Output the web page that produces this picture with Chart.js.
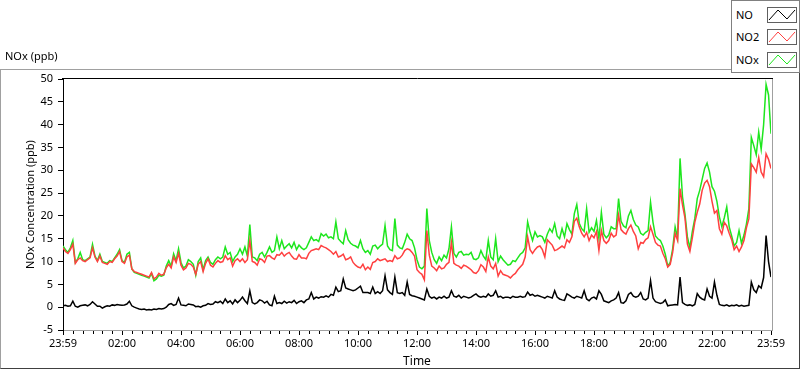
<!DOCTYPE html>
<html>
<head>
<meta charset="utf-8">
<script src="https://cdn.jsdelivr.net/npm/chart.js@4.4.0/dist/chart.umd.min.js"></script>
<style>
  html, body { margin: 0; padding: 0; background: #fff; }
  body { width: 800px; height: 369px; position: relative; overflow: hidden; font-family: "Noto Sans", sans-serif; color: #000; }
  #frame { position: absolute; left: 0; top: 69px; width: 798px; height: 298px;
    border-top: 1px solid #a0a0a0; border-left: 1px solid #a0a0a0;
    border-right: 1px solid #404040; border-bottom: 1px solid #404040; }
  #chart { position: absolute; left: 0; top: 0; }
  #caption { position: absolute; left: 5px; top: 48px; font-size: 11px; line-height: 16px; }
  #legend { position: absolute; left: 731px; top: 0; width: 67px; height: 71px;
    border: 1px solid #808080; background: #fff; }
  .row { position: absolute; left: 0; width: 67px; height: 16px; }
  .row span { position: absolute; left: 4px; top: 0; font-size: 11px; line-height: 16px; }
  .row svg { position: absolute; left: 35px; top: 0; }
</style>
</head>
<body>
<div id="frame"></div>
<canvas id="chart" width="800" height="369"></canvas>
<div id="caption">NOx (ppb)</div>
<div id="legend"></div>
<script>
// 5-minute samples from 23:59 to 23:59 next day
const NO_PPB = [
  0.3, 0.4, 0.2, 0.3, 1.3, 0.2, 0.0, 0.3, 0.4, 0.5,
  0.3, 0.6, 1.2, 0.7, 0.2, 0.2, -0.2, 0.1, 0.3, 0.2,
  0.5, 0.4, 0.6, 0.5, 0.4, 0.5, 0.7, 1.3, 0.3, 0.0,
  -0.2, -0.4, -0.5, -0.4, -0.6, -0.5, -0.6, -0.4, -0.5, -0.3,
  -0.4, -0.3, 0.0, 0.6, 0.8, 0.4, 0.6, 2.0, 0.5, 0.4,
  0.3, 0.7, 0.6, 0.5, 0.1, 0.2, 0.0, 0.3, 0.4, 0.8,
  0.6, 0.7, 1.2, 1.0, 1.3, 0.8, 1.8, 1.0, 1.4, 0.7,
  1.6, 1.0, 1.5, 2.2, 1.4, 0.8, 3.6, 1.0, 0.7, 1.0,
  1.6, 1.4, 0.9, 1.3, 0.5, 0.3, 2.4, 0.8, 1.0, 0.8,
  1.3, 0.9, 1.2, 1.0, 1.5, 0.8, 1.2, 1.4, 1.0, 1.6,
  1.8, 3.2, 1.8, 2.2, 2.0, 2.3, 2.2, 2.5, 2.2, 2.8,
  2.6, 4.4, 3.4, 3.6, 6.2, 4.2, 4.0, 3.8, 3.6, 3.8,
  4.2, 4.6, 3.2, 3.2, 3.2, 3.0, 4.4, 3.0, 3.4, 3.0,
  3.6, 6.9, 3.8, 3.2, 2.8, 6.6, 3.2, 3.0, 3.2, 2.6,
  5.5, 2.8, 2.5, 2.4, 2.2, 2.0, 1.8, 1.6, 4.0, 2.4,
  2.0, 2.2, 1.8, 2.2, 2.0, 2.4, 2.0, 2.2, 3.6, 2.4,
  2.2, 2.6, 2.0, 2.4, 2.2, 2.0, 2.2, 2.6, 2.9, 2.4,
  2.2, 2.4, 2.2, 2.9, 2.4, 2.6, 3.6, 2.2, 2.4, 2.0,
  2.2, 2.2, 2.0, 2.4, 2.2, 2.2, 2.4, 2.2, 2.3, 3.3,
  2.6, 2.8, 2.4, 2.6, 2.4, 2.2, 2.0, 2.4, 2.2, 2.0,
  3.6, 2.2, 1.8, 1.6, 1.5, 2.9, 2.6, 2.2, 2.0, 2.4,
  2.2, 2.0, 3.6, 1.8, 1.4, 2.0, 2.2, 1.8, 3.6, 2.8,
  1.4, 1.2, 1.0, 1.4, 1.6, 2.0, 3.2, 1.0, 0.9, 1.4,
  2.8, 3.2, 2.4, 2.2, 2.4, 3.2, 1.8, 1.6, 2.0, 5.8,
  2.0, 1.2, 1.0, 0.8, 1.0, 1.6, 0.3, 0.4, 0.5, 0.6,
  0.5, 6.6, 1.0, 0.6, 0.4, 0.5, 0.3, 0.6, 3.0, 2.2,
  1.8, 1.6, 4.0, 2.4, 2.0, 5.5, 2.6, 0.6, 0.4, 0.3,
  0.5, 0.2, 0.4, 0.3, 0.5, 0.2, 0.4, 0.2, 0.3, 0.4,
  5.5, 3.8, 3.2, 4.7, 4.2, 6.5, 15.7, 10.0, 6.6
];

const NO2_PPB = [
  13.0, 12.2, 11.8, 12.6, 13.8, 9.6, 10.4, 10.8, 10.2, 10.0,
  10.4, 10.8, 13.0, 11.0, 10.0, 11.2, 9.8, 9.6, 9.4, 10.0,
  9.8, 10.6, 11.2, 12.2, 10.0, 9.6, 11.0, 11.4, 8.4, 7.8,
  7.6, 7.4, 7.2, 7.0, 6.8, 6.6, 7.6, 6.2, 6.6, 7.4,
  7.0, 7.2, 8.6, 9.4, 8.6, 11.0, 9.8, 11.8, 9.2, 8.2,
  8.6, 9.6, 9.4, 8.8, 7.2, 9.4, 10.0, 7.8, 9.6, 10.6,
  9.2, 8.8, 9.6, 10.2, 9.8, 10.0, 11.3, 10.4, 10.8, 9.0,
  10.2, 10.6, 10.0, 10.6, 9.8, 10.4, 14.6, 10.0, 9.8, 9.2,
  10.6, 10.4, 9.8, 11.2, 11.3, 10.8, 10.5, 11.5, 11.4, 12.0,
  11.2, 11.7, 12.0, 11.2, 10.6, 10.5, 11.5, 10.8, 10.8, 10.6,
  11.8, 12.4, 12.6, 12.8, 12.6, 13.5, 13.2, 13.0, 12.6, 12.2,
  11.6, 12.2, 11.0, 11.2, 11.6, 10.4, 10.6, 11.0, 9.8, 9.2,
  8.8, 8.6, 9.4, 8.2, 8.8, 8.3, 9.8, 10.0, 10.6, 10.2,
  10.4, 10.6, 10.0, 10.2, 10.0, 11.3, 10.6, 10.8, 11.4, 12.4,
  12.8, 12.6, 12.0, 11.2, 8.2, 7.6, 7.2, 6.0, 16.8, 11.4,
  9.0, 8.6, 8.0, 9.0, 8.4, 8.6, 9.4, 9.8, 14.2, 9.6,
  9.2, 9.0, 8.5, 9.2, 9.0, 8.6, 8.2, 7.6, 7.4, 8.0,
  9.3, 8.8, 7.8, 11.0, 9.0, 8.4, 9.6, 6.8, 8.0, 7.2,
  7.0, 6.8, 6.4, 7.0, 7.4, 8.2, 8.8, 9.4, 11.0, 15.4,
  12.6, 11.8, 12.6, 13.2, 13.4, 12.6, 11.0, 14.8, 14.2, 13.6,
  12.4, 12.6, 13.0, 13.4, 13.0, 14.8, 14.2, 15.4, 18.8, 19.5,
  17.6, 16.2, 15.4, 16.4, 14.6, 15.8, 15.2, 16.6, 12.4, 16.8,
  14.6, 14.0, 14.6, 16.2, 15.4, 15.8, 20.2, 17.0, 16.4, 16.0,
  17.2, 18.0, 16.6, 15.6, 12.8, 14.2, 14.0, 14.8, 15.2, 17.6,
  16.0, 14.2, 13.6, 13.4, 11.8, 10.6, 8.8, 9.4, 12.0, 16.2,
  14.6, 26.0, 22.4, 19.6, 13.8, 12.2, 15.2, 18.6, 20.8, 22.6,
  25.6, 27.2, 27.8, 26.4, 23.2, 20.6, 21.2, 17.2, 16.0, 18.6,
  17.8, 16.2, 14.8, 12.6, 13.4, 12.2, 13.2, 14.6, 17.4, 19.4,
  31.4, 30.6, 29.6, 32.8, 29.6, 28.6, 33.6, 32.4, 30.4
];

const NOX_PPB = [
  13.4, 12.6, 12.0, 13.0, 14.6, 9.8, 10.6, 12.0, 10.4, 10.2,
  10.6, 11.0, 13.8, 11.2, 10.2, 11.6, 10.0, 9.8, 9.6, 10.2,
  10.0, 10.8, 11.6, 12.6, 10.2, 9.8, 11.6, 12.0, 8.4, 7.6,
  7.4, 7.2, 7.0, 6.8, 6.6, 6.4, 7.4, 5.8, 6.2, 7.0,
  6.8, 7.0, 9.0, 10.2, 9.0, 11.7, 10.2, 12.8, 9.8, 8.6,
  9.0, 10.4, 10.0, 9.4, 7.0, 10.0, 10.8, 8.2, 10.2, 11.0,
  9.8, 9.4, 10.4, 11.0, 10.6, 11.0, 13.2, 11.6, 12.0, 10.0,
  11.0, 11.6, 12.8, 11.6, 13.2, 11.2, 18.1, 11.0, 10.8, 10.2,
  11.6, 12.0, 11.0, 12.0, 13.2, 12.0, 12.4, 15.4, 12.8, 14.6,
  12.8, 13.4, 13.9, 13.0, 14.2, 12.6, 13.6, 13.0, 12.6, 13.0,
  14.2, 15.4, 14.6, 14.8, 14.4, 16.1, 15.6, 16.0, 15.2, 15.4,
  15.0, 18.7, 15.0, 14.4, 13.9, 16.8, 14.8, 14.0, 13.6, 13.4,
  13.0, 14.6, 12.8, 12.0, 12.4, 11.6, 13.4, 13.6, 12.8, 13.4,
  13.8, 17.9, 13.4, 12.6, 12.4, 19.4, 13.6, 13.0, 12.8, 14.2,
  16.0, 15.0, 14.6, 13.0, 10.4, 8.8, 8.4, 9.0, 21.6, 14.6,
  12.0, 10.4, 9.6, 11.0, 10.2, 11.4, 10.8, 12.8, 17.6, 11.8,
  11.0, 12.0, 12.2, 11.4, 11.6, 11.5, 12.0, 10.6, 10.4, 10.8,
  12.4, 11.2, 10.4, 14.6, 11.0, 10.4, 15.0, 10.0, 11.2, 10.4,
  9.8, 9.2, 9.4, 10.2, 10.0, 10.8, 11.6, 12.0, 13.0, 18.7,
  16.4, 14.6, 16.5, 15.4, 15.7, 15.4, 14.2, 16.0, 17.2, 16.4,
  18.3, 15.6, 15.0, 17.2, 15.4, 18.3, 17.0, 16.0, 20.5, 22.5,
  18.4, 17.2, 16.6, 21.6, 16.4, 17.4, 16.6, 19.0, 15.0, 20.8,
  16.0, 15.2, 15.8, 17.6, 17.2, 17.2, 23.8, 18.8, 17.8, 17.4,
  20.0, 21.2, 19.2, 18.0, 17.6, 16.2, 15.8, 16.4, 16.8, 23.0,
  18.6, 15.6, 15.0, 14.6, 13.4, 11.6, 9.0, 9.8, 12.8, 17.6,
  15.2, 32.6, 24.2, 20.4, 15.4, 13.0, 16.6, 19.4, 23.8, 25.6,
  28.0, 30.4, 31.6, 29.6, 26.4, 25.4, 23.2, 19.8, 17.6, 19.6,
  22.0, 17.6, 15.6, 13.4, 14.2, 16.8, 14.0, 15.8, 18.2, 21.6,
  37.2, 35.4, 33.4, 38.4, 34.6, 40.0, 48.8, 46.5, 38.0
];

const TIME_TICK_LABELS = ['23:59', '02:00', '04:00', '06:00', '08:00', '10:00', '12:00',
  '14:00', '16:00', '18:00', '20:00', '22:00', '23:59'];

const SERIES_NAMES = ['NO', 'NO2', 'NOx'];
const SERIES_COLORS = ['#000000', '#ff4040', '#1ee61e'];

const SAMPLE_MINUTES = NO_PPB.map((_, i) => i * 5);

function toPoints(values) {
  return values.map((v, i) => ({ x: SAMPLE_MINUTES[i], y: v }));
}

// legend box, LabVIEW style
function buildLegend() {
  const box = document.getElementById('legend');
  const tops = [6, 28, 51];
  SERIES_NAMES.forEach((name, i) => {
    const row = document.createElement('div');
    row.className = 'row';
    row.style.top = tops[i] + 'px';
    row.innerHTML = `<span>${name}</span>` +
      `<svg width="30" height="16"><rect x="0.5" y="0.5" width="29" height="15" fill="#fff" stroke="#606060"/>` +
      `<polyline points="2,13 11,3 20,12 28,3" fill="none" stroke="${SERIES_COLORS[i]}" stroke-width="1"/></svg>`;
    box.appendChild(row);
  });
}

const plotFrame = {
  id: 'plotFrame',
  afterDraw(chart) {
    const { ctx, chartArea: a, scales: { x } } = chart;
    ctx.save();
    ctx.lineWidth = 1;
    ctx.strokeStyle = '#000';
    ctx.beginPath();
    ctx.moveTo(a.left - 1, a.top - 0.5);
    ctx.lineTo(a.right + 2, a.top - 0.5);
    ctx.stroke();
    ctx.strokeStyle = '#a0a0a0';
    ctx.beginPath();
    ctx.moveTo(a.right + 1.5, a.top);
    ctx.lineTo(a.right + 1.5, a.bottom + 1);
    ctx.stroke();
    // minor ticks every 20 min
    ctx.strokeStyle = '#000';
    for (let m = 20; m < 1440; m += 20) {
      if (m % 120 === 0) continue;
      const px = Math.round(x.getPixelForValue(m)) + 0.5;
      ctx.beginPath();
      ctx.moveTo(px, a.bottom + 1);
      ctx.lineTo(px, a.bottom + 4);
      ctx.stroke();
    }
    ctx.restore();
  }
};

Chart.defaults.font.family = '"Noto Sans", "DejaVu Sans", sans-serif';
Chart.defaults.font.size = 11;
Chart.defaults.color = '#000';

buildLegend();

new Chart(document.getElementById('chart').getContext('2d'), {
  type: 'line',
  data: {
    datasets: [NO_PPB, NO2_PPB, NOX_PPB].map((vals, i) => ({
      label: SERIES_NAMES[i],
      data: toPoints(vals),
      borderColor: SERIES_COLORS[i],
      borderWidth: 1.5,
      pointRadius: 0,
      tension: 0,
      fill: false,
    })),
  },
  options: {
    responsive: false,
    animation: false,
    events: [],
    layout: { padding: { left: 0, top: 79, right: 29, bottom: 0 } },
    plugins: {
      legend: { display: false },
      tooltip: { enabled: false },
    },
    scales: {
      x: {
        type: 'linear',
        min: 0,
        max: 1440,
        afterFit: (s) => { s.height = 39; },
        ticks: {
          stepSize: 120,
          autoSkip: false,
          maxRotation: 0,
          padding: 2,
          callback: (v) => TIME_TICK_LABELS[Math.round(v / 120)],
        },
        grid: { drawOnChartArea: false, tickLength: 5, tickColor: '#000' },
        border: { color: '#a0a0a0' },
        title: { display: true, text: 'Time', font: { size: 12 }, padding: { top: 0, bottom: 0 } },
      },
      y: {
        min: -5,
        max: 50,
        afterFit: (s) => { s.width = 63; },
        ticks: { stepSize: 5, padding: 5 },
        grid: { drawOnChartArea: false, tickLength: 5, tickColor: '#000' },
        border: { color: '#000' },
        title: { display: true, text: 'NOx Concentration (ppb)', padding: { top: 24, bottom: 0 } },
      },
    },
  },
  plugins: [plotFrame],
});
</script>
</body>
</html>
